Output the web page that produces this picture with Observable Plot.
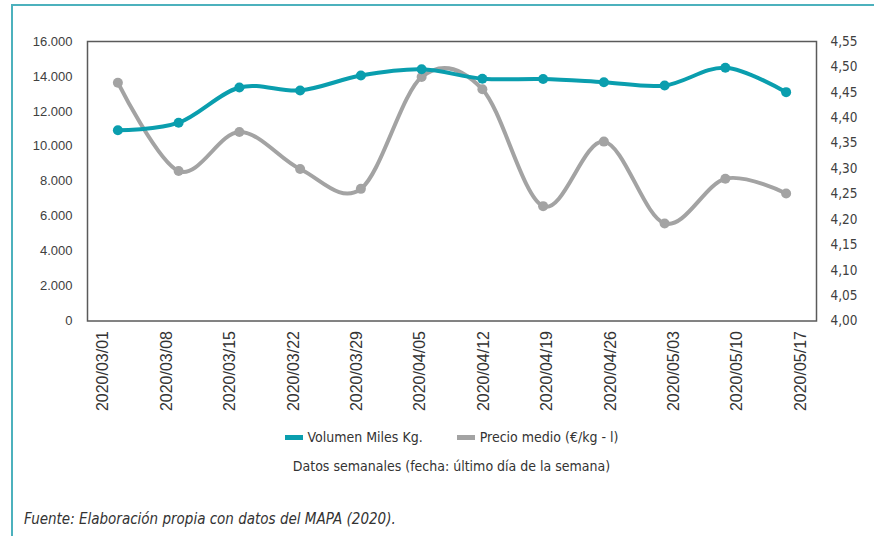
<!DOCTYPE html>
<html>
<head>
<meta charset="utf-8">
<script src="https://cdn.jsdelivr.net/npm/d3@7"></script>
<script src="https://cdn.jsdelivr.net/npm/@observablehq/plot@0.6"></script>
<style>
  html, body { margin: 0; padding: 0; background: #fff; }
  #wrap { position: relative; width: 874px; height: 536px; overflow: hidden; background: #fff; }
  #frame { position: absolute; left: 11px; top: 4px; width: 870px; height: 540px;
           border-top: 2px solid #4cb1bd; border-left: 2px solid #4cb1bd; }
  #chart, #xlabels { position: absolute; left: 0; top: 0; }
  #xlabels { pointer-events: none; }
  .cond { font-family: "Liberation Sans Narrow", "DejaVu Sans Condensed", "Roboto", sans-serif; color: #333; }
  #legend { position: absolute; top: 428px; left: 87px; width: 729px; text-align: center; font-size: 14px; white-space: nowrap; }
  #legend span.item { display: inline-block; margin: 0 17px; vertical-align: middle; }
  #legend i.sw { display: inline-block; width: 18px; height: 5px; vertical-align: middle; margin-right: 5px; position: relative; top: -1px; }
  #sub { position: absolute; top: 458px; left: 87px; width: 729px; text-align: center; font-size: 14px; white-space: nowrap; }
  #foot { position: absolute; top: 510px; left: 24px; font-size: 15px; font-style: italic; }
</style>
</head>
<body>
<div id="wrap">
  <div id="frame"></div>
  <div id="chart"></div>
  <div id="xlabels"></div>
  <div id="legend" class="cond"></div>
  <div id="sub" class="cond"></div>
  <div id="foot" class="cond"></div>
</div>
<script>
const fechas = ["2020/03/01","2020/03/08","2020/03/15","2020/03/22","2020/03/29","2020/04/05",
                "2020/04/12","2020/04/19","2020/04/26","2020/05/03","2020/05/10","2020/05/17"];
const volumen = [10920, 11350, 13370, 13200, 14050, 14410, 13870, 13850, 13670, 13480, 14500, 13100];
const precio  = [4.469, 4.295, 4.372, 4.299, 4.260, 4.480, 4.456, 4.226, 4.353, 4.192, 4.280, 4.251];
const volumenTicks = [0, 2000, 4000, 6000, 8000, 10000, 12000, 14000, 16000];
const precioTicks = [4.00, 4.05, 4.10, 4.15, 4.20, 4.25, 4.30, 4.35, 4.40, 4.45, 4.50, 4.55];
const serieVolumen = "Volumen Miles Kg.";
const seriePrecio = "Precio medio (€/kg - l)";
const subtitulo = "Datos semanales (fecha: último día de la semana)";
const fuente = "Fuente: Elaboración propia con datos del MAPA (2020).";

const teal = "#0a9eae";
const gray = "#a3a3a3";
const vMax = 16000, pMin = 4.00, pMax = 4.55;
const toY = p => (p - pMin) / (pMax - pMin) * vMax;
const fromY = v => pMin + v / vMax * (pMax - pMin);

const loc = d3.formatLocale({decimal: ",", thousands: ".", grouping: [3], currency: ["", "€"]});
const fmtVol = loc.format(",");

const rowsV = fechas.map((f, i) => ({fecha: f, v: volumen[i]}));
const rowsP = fechas.map((f, i) => ({fecha: f, v: toY(precio[i])}));

const common = {
  width: 874,
  height: 415,
  marginLeft: 87,
  marginRight: 58,
  marginTop: 41,
  marginBottom: 94.5,
  style: {background: "transparent", fontFamily: "'Liberation Sans', Arial, sans-serif"}
};

const chart = Plot.plot({
  ...common,
  x: {type: "point", domain: fechas, padding: 0.5, round: false, axis: null},
  y: {domain: [0, vMax]},
  marks: [
    Plot.axisY(volumenTicks, {anchor: "left", tickSize: 0, tickPadding: 15, fontSize: 13, color: "#404040",
      tickFormat: fmtVol, label: null}),
    Plot.axisY(precioTicks.map(toY), {anchor: "right", tickSize: 0, tickPadding: 14, fontSize: 13.5, color: "#404040",
      fontFamily: "'Liberation Sans Narrow', 'DejaVu Sans Condensed', sans-serif",
      tickFormat: d => fromY(d).toFixed(2).replace(".", ","), label: null}),
    Plot.frame({stroke: "#5a5a5a", strokeWidth: 1.5}),
    Plot.line(rowsP, {x: "fecha", y: "v", stroke: gray, strokeWidth: 4, curve: "cardinal"}),
    Plot.dot(rowsP, {x: "fecha", y: "v", fill: gray, r: 5}),
    Plot.line(rowsV, {x: "fecha", y: "v", stroke: teal, strokeWidth: 4, curve: "cardinal"}),
    Plot.dot(rowsV, {x: "fecha", y: "v", fill: teal, r: 5})
  ]
});
document.getElementById("chart").appendChild(chart);

// Category labels: the source spreads them slightly wider than the data points
const labels = Plot.plot({
  ...common,
  x: {type: "point", domain: fechas, padding: 0.25, round: false},
  y: {axis: null, domain: [0, vMax]},
  marks: [
    Plot.axisX({tickRotate: -90, tickSize: 0, tickPadding: 10, fontSize: 16, color: "#333", label: null})
  ]
});
document.getElementById("xlabels").appendChild(labels);

const legend = document.getElementById("legend");
[[serieVolumen, teal], [seriePrecio, gray]].forEach(([name, c]) => {
  const s = document.createElement("span");
  s.className = "item";
  const sw = document.createElement("i");
  sw.className = "sw";
  sw.style.background = c;
  s.appendChild(sw);
  s.appendChild(document.createTextNode(name));
  legend.appendChild(s);
});
document.getElementById("sub").textContent = subtitulo;
document.getElementById("foot").textContent = fuente;
</script>
</body>
</html>
